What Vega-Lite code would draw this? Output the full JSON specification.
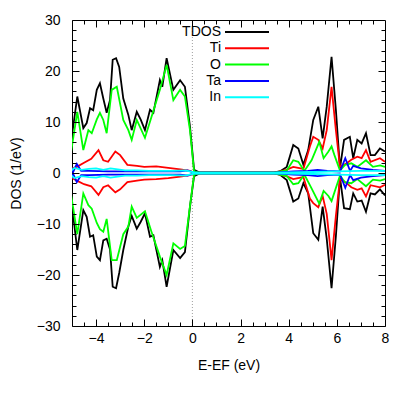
{
  "$schema": "https://vega.github.io/schema/vega-lite/v6.json",
  "width": 313,
  "height": 306,
  "autosize": {"type": "none"},
  "padding": {"left": 72, "top": 20, "right": 30, "bottom": 70},
  "background": "white",
  "config": {
    "view": {"stroke": "black", "strokeWidth": 1},
    "font": "Liberation Sans",
    "axis": {
      "domain": false,
      "grid": false,
      "labelFont": "Liberation Sans",
      "labelFontSize": 14,
      "labelColor": "black",
      "titleFont": "Liberation Sans",
      "titleFontSize": 14,
      "titleFontWeight": "normal",
      "titleColor": "black"
    }
  },
  "layer": [
    {
      "data": {"values": [{"E": 0, "lo": -30, "hi": 30}]},
      "mark": {"type": "rule", "color": "#888888", "strokeDash": [1, 2], "strokeWidth": 0.8},
      "encoding": {
        "x": {"field": "E", "type": "quantitative", "scale": {"domain": [-5, 8], "nice": false, "zero": false},
          "axis": {"orient": "top", "labels": false, "title": null, "values": [-4,-2,0,2,4,6], "ticks": true, "tickColor": "#000000", "tickWidth": 1, "tickSize": -7, "zindex": 1}},
        "y": {"field": "lo", "type": "quantitative", "scale": {"domain": [-30, 30], "nice": false},
          "axis": {"orient": "right", "labels": false, "title": null, "values": [-20,-10,0,10,20], "ticks": true, "tickColor": "#000000", "tickWidth": 1, "tickSize": -7, "zindex": 1}},
        "y2": {"field": "hi"}
      }
    },
    {
      "data": {"values": [{"E": 0, "lo": -30, "hi": 30}]},
      "mark": {"type": "rule", "opacity": 0},
      "encoding": {
        "x": {"field": "E", "type": "quantitative",
          "axis": {"orient": "top", "labels": false, "title": null,
            "values": [-4.5,-3.5,-3,-2.5,-1.5,-1,-0.5,0.5,1,1.5,2.5,3,3.5,4.5,5,5.5,6.5,7,7.5], "ticks": true, "tickColor": "#000000", "tickWidth": 1, "tickSize": -4, "zindex": 1}},
        "y": {"field": "lo", "type": "quantitative",
          "axis": {"orient": "right", "labels": false, "title": null,
            "values": [-28,-26,-24,-22,-18,-16,-14,-12,-8,-6,-4,-2,2,4,6,8,12,14,16,18,22,24,26,28], "ticks": true, "tickColor": "#000000", "tickWidth": 1, "tickSize": -4, "zindex": 1}},
        "y2": {"field": "hi"}
      }
    },
    {
      "data": {"values": [{"E": 0, "lo": -30, "hi": 30}]},
      "mark": {"type": "rule", "opacity": 0},
      "encoding": {
        "x": {"field": "E", "type": "quantitative",
          "axis": {"orient": "bottom", "labels": false, "title": null,
            "values": [-4.5,-3.5,-3,-2.5,-1.5,-1,-0.5,0.5,1,1.5,2.5,3,3.5,4.5,5,5.5,6.5,7,7.5], "ticks": true, "tickColor": "#000000", "tickWidth": 1, "tickSize": -4, "zindex": 1}},
        "y": {"field": "lo", "type": "quantitative",
          "axis": {"orient": "left", "labels": false, "title": null,
            "values": [-28,-26,-24,-22,-18,-16,-14,-12,-8,-6,-4,-2,2,4,6,8,12,14,16,18,22,24,26,28], "ticks": true, "tickColor": "#000000", "tickWidth": 1, "tickSize": -4, "zindex": 1}},
        "y2": {"field": "hi"}
      }
    },
    {
      "data": {"values": [
        {"k":"TDOS","E":-5.07,"u":5.0,"d":-3.7},{"k":"TDOS","E":-4.78,"u":15.0,"d":-15.1},{"k":"TDOS","E":-4.53,"u":8.8,"d":-7.3},{"k":"TDOS","E":-4.39,"u":9.8,"d":-8.6},{"k":"TDOS","E":-4.25,"u":12.7,"d":-12.5},{"k":"TDOS","E":-4.12,"u":12.3,"d":-12.2},{"k":"TDOS","E":-3.97,"u":16.3,"d":-16.4},{"k":"TDOS","E":-3.84,"u":17.6,"d":-17.1},{"k":"TDOS","E":-3.70,"u":14.6,"d":-13.2},{"k":"TDOS","E":-3.56,"u":11.8,"d":-12.9},{"k":"TDOS","E":-3.42,"u":14.3,"d":-15.0},{"k":"TDOS","E":-3.31,"u":22.2,"d":-22.3},{"k":"TDOS","E":-3.17,"u":22.5,"d":-22.6},{"k":"TDOS","E":-3.04,"u":20.8,"d":-19.6},{"k":"TDOS","E":-2.87,"u":14.6,"d":-15.1},{"k":"TDOS","E":-2.66,"u":11.4,"d":-10.5},{"k":"TDOS","E":-2.52,"u":8.4,"d":-8.4},{"k":"TDOS","E":-2.31,"u":12.0,"d":-10.9},{"k":"TDOS","E":-2.15,"u":10.5,"d":-9.6},{"k":"TDOS","E":-1.97,"u":8.4,"d":-7.9},{"k":"TDOS","E":-1.76,"u":12.4,"d":-12.5},{"k":"TDOS","E":-1.62,"u":11.8,"d":-12.2},{"k":"TDOS","E":-1.35,"u":18.2,"d":-18.4},{"k":"TDOS","E":-1.25,"u":16.9,"d":-17.1},{"k":"TDOS","E":-1.07,"u":22.5,"d":-22.3},{"k":"TDOS","E":-0.79,"u":16.3,"d":-15.1},{"k":"TDOS","E":-0.51,"u":18.2,"d":-16.7},{"k":"TDOS","E":-0.31,"u":16.9,"d":-15.5},{"k":"TDOS","E":-0.10,"u":9.1,"d":-6.6},{"k":"TDOS","E":0.07,"u":0.6,"d":-0.6},{"k":"TDOS","E":0.3,"u":0.1,"d":-0.1},{"k":"TDOS","E":3.4,"u":0.1,"d":-0.1},{"k":"TDOS","E":3.63,"u":0.3,"d":-0.3},{"k":"TDOS","E":3.92,"u":1.2,"d":-1.4},{"k":"TDOS","E":4.19,"u":5.5,"d":-5.6},{"k":"TDOS","E":4.40,"u":4.8,"d":-5.0},{"k":"TDOS","E":4.61,"u":1.6,"d":-2.0},{"k":"TDOS","E":4.81,"u":4.5,"d":-4.0},{"k":"TDOS","E":5.02,"u":10.4,"d":-11.8},{"k":"TDOS","E":5.23,"u":13.0,"d":-13.1},{"k":"TDOS","E":5.41,"u":6.8,"d":-6.6},{"k":"TDOS","E":5.58,"u":13.0,"d":-12.9},{"k":"TDOS","E":5.78,"u":22.8,"d":-22.6},{"k":"TDOS","E":5.96,"u":12.4,"d":-12.4},{"k":"TDOS","E":6.13,"u":0.9,"d":-0.9},{"k":"TDOS","E":6.30,"u":6.5,"d":-6.9},{"k":"TDOS","E":6.54,"u":7.1,"d":-7.1},{"k":"TDOS","E":6.68,"u":2.9,"d":-4.0},{"k":"TDOS","E":6.85,"u":6.5,"d":-5.6},{"k":"TDOS","E":7.03,"u":5.8,"d":-5.4},{"k":"TDOS","E":7.21,"u":7.8,"d":-7.6},{"k":"TDOS","E":7.40,"u":3.5,"d":-4.0},{"k":"TDOS","E":7.58,"u":3.5,"d":-4.2},{"k":"TDOS","E":7.79,"u":4.8,"d":-3.2},{"k":"TDOS","E":8.0,"u":4.2,"d":-4.4},
        {"k":"Ti","E":-5.07,"u":0.8,"d":-0.8},{"k":"Ti","E":-4.8,"u":1.2,"d":-1.5},{"k":"Ti","E":-4.5,"u":2.0,"d":-2.2},{"k":"Ti","E":-4.2,"u":2.8,"d":-2.6},{"k":"Ti","E":-3.9,"u":4.5,"d":-4.3},{"k":"Ti","E":-3.7,"u":2.5,"d":-2.8},{"k":"Ti","E":-3.5,"u":2.2,"d":-2.4},{"k":"Ti","E":-3.2,"u":4.2,"d":-3.8},{"k":"Ti","E":-3.0,"u":3.5,"d":-3.2},{"k":"Ti","E":-2.7,"u":1.6,"d":-1.8},{"k":"Ti","E":-2.3,"u":1.4,"d":-1.5},{"k":"Ti","E":-2.0,"u":1.2,"d":-1.3},{"k":"Ti","E":-1.5,"u":1.3,"d":-1.2},{"k":"Ti","E":-1.0,"u":1.0,"d":-1.0},{"k":"Ti","E":-0.5,"u":0.7,"d":-0.7},{"k":"Ti","E":-0.1,"u":0.4,"d":-0.4},{"k":"Ti","E":0.1,"u":0.05,"d":-0.05},{"k":"Ti","E":3.4,"u":0.05,"d":-0.05},{"k":"Ti","E":3.9,"u":0.6,"d":-0.6},{"k":"Ti","E":4.19,"u":1.2,"d":-1.2},{"k":"Ti","E":4.61,"u":0.8,"d":-0.8},{"k":"Ti","E":4.88,"u":5.2,"d":-5.0},{"k":"Ti","E":5.02,"u":7.1,"d":-5.9},{"k":"Ti","E":5.23,"u":6.5,"d":-6.7},{"k":"Ti","E":5.41,"u":4.8,"d":-4.5},{"k":"Ti","E":5.58,"u":8.4,"d":-8.0},{"k":"Ti","E":5.78,"u":16.9,"d":-17.1},{"k":"Ti","E":5.96,"u":8.4,"d":-8.4},{"k":"Ti","E":6.13,"u":1.2,"d":-1.2},{"k":"Ti","E":6.41,"u":1.9,"d":-2.0},{"k":"Ti","E":6.60,"u":2.6,"d":-2.8},{"k":"Ti","E":6.85,"u":3.2,"d":-3.3},{"k":"Ti","E":7.03,"u":2.9,"d":-3.0},{"k":"Ti","E":7.21,"u":4.5,"d":-4.6},{"k":"Ti","E":7.40,"u":2.2,"d":-2.4},{"k":"Ti","E":7.79,"u":2.9,"d":-2.8},{"k":"Ti","E":8.0,"u":2.2,"d":-2.3},
        {"k":"O","E":-5.07,"u":3.2,"d":-3.3},{"k":"O","E":-4.78,"u":12.0,"d":-12.0},{"k":"O","E":-4.53,"u":4.5,"d":-4.0},{"k":"O","E":-4.32,"u":8.4,"d":-6.3},{"k":"O","E":-4.18,"u":7.8,"d":-7.0},{"k":"O","E":-3.97,"u":10.5,"d":-9.8},{"k":"O","E":-3.84,"u":11.8,"d":-11.0},{"k":"O","E":-3.70,"u":10.4,"d":-11.5},{"k":"O","E":-3.56,"u":7.8,"d":-9.0},{"k":"O","E":-3.35,"u":16.3,"d":-17.1},{"k":"O","E":-3.14,"u":16.9,"d":-17.1},{"k":"O","E":-2.87,"u":10.4,"d":-12.0},{"k":"O","E":-2.66,"u":8.4,"d":-10.5},{"k":"O","E":-2.52,"u":6.5,"d":-6.6},{"k":"O","E":-2.31,"u":10.4,"d":-8.8},{"k":"O","E":-1.97,"u":6.9,"d":-7.5},{"k":"O","E":-1.70,"u":11.0,"d":-11.5},{"k":"O","E":-1.35,"u":16.3,"d":-16.4},{"k":"O","E":-1.07,"u":21.2,"d":-20.0},{"k":"O","E":-0.79,"u":14.3,"d":-13.8},{"k":"O","E":-0.51,"u":16.3,"d":-14.9},{"k":"O","E":-0.31,"u":15.0,"d":-14.3},{"k":"O","E":-0.10,"u":8.4,"d":-6.5},{"k":"O","E":0.07,"u":0.3,"d":-0.3},{"k":"O","E":0.3,"u":0.05,"d":-0.05},{"k":"O","E":3.4,"u":0.05,"d":-0.05},{"k":"O","E":3.92,"u":0.5,"d":-0.6},{"k":"O","E":4.19,"u":2.5,"d":-2.2},{"k":"O","E":4.40,"u":2.2,"d":-2.0},{"k":"O","E":4.65,"u":0.4,"d":-0.3},{"k":"O","E":4.95,"u":2.5,"d":-3.0},{"k":"O","E":5.27,"u":6.1,"d":-6.0},{"k":"O","E":5.45,"u":2.9,"d":-3.5},{"k":"O","E":5.65,"u":4.2,"d":-4.5},{"k":"O","E":5.78,"u":5.2,"d":-5.5},{"k":"O","E":5.90,"u":3.5,"d":-3.8},{"k":"O","E":6.13,"u":0.5,"d":-0.5},{"k":"O","E":6.34,"u":1.6,"d":-1.8},{"k":"O","E":6.60,"u":1.9,"d":-2.0},{"k":"O","E":6.85,"u":1.2,"d":-1.2},{"k":"O","E":7.21,"u":2.5,"d":-2.6},{"k":"O","E":7.50,"u":1.2,"d":-1.3},{"k":"O","E":7.80,"u":1.5,"d":-1.5},{"k":"O","E":8.0,"u":1.2,"d":-1.2},
        {"k":"Ta","E":-5.07,"u":1.6,"d":-1.6},{"k":"Ta","E":-4.95,"u":0.2,"d":-0.2},{"k":"Ta","E":-4.80,"u":1.8,"d":-1.8},{"k":"Ta","E":-4.62,"u":0.4,"d":-0.4},{"k":"Ta","E":-4.3,"u":0.4,"d":-0.4},{"k":"Ta","E":-3.5,"u":0.3,"d":-0.3},{"k":"Ta","E":-2.5,"u":0.3,"d":-0.3},{"k":"Ta","E":-1.5,"u":0.3,"d":-0.3},{"k":"Ta","E":-0.5,"u":0.3,"d":-0.3},{"k":"Ta","E":-0.2,"u":0.5,"d":-0.5},{"k":"Ta","E":0.1,"u":0.05,"d":-0.05},{"k":"Ta","E":3.4,"u":0.05,"d":-0.05},{"k":"Ta","E":4.2,"u":0.3,"d":-0.3},{"k":"Ta","E":4.8,"u":0.4,"d":-0.4},{"k":"Ta","E":5.2,"u":0.6,"d":-0.6},{"k":"Ta","E":5.6,"u":0.4,"d":-0.4},{"k":"Ta","E":6.13,"u":0.3,"d":-0.3},{"k":"Ta","E":6.35,"u":2.9,"d":-2.9},{"k":"Ta","E":6.55,"u":0.4,"d":-0.4},{"k":"Ta","E":6.68,"u":1.4,"d":-1.4},{"k":"Ta","E":7.0,"u":0.9,"d":-0.9},{"k":"Ta","E":7.5,"u":0.6,"d":-0.6},{"k":"Ta","E":8.0,"u":0.4,"d":-0.4},
        {"k":"In","E":-5.07,"u":0.3,"d":-0.3},{"k":"In","E":-4.9,"u":1.0,"d":-1.0},{"k":"In","E":-4.6,"u":0.6,"d":-0.6},{"k":"In","E":-4.3,"u":0.8,"d":-0.8},{"k":"In","E":-4.0,"u":0.9,"d":-0.9},{"k":"In","E":-3.7,"u":0.6,"d":-0.6},{"k":"In","E":-3.4,"u":0.9,"d":-0.9},{"k":"In","E":-3.1,"u":0.7,"d":-0.7},{"k":"In","E":-2.8,"u":0.5,"d":-0.5},{"k":"In","E":-2.3,"u":0.5,"d":-0.5},{"k":"In","E":-1.8,"u":0.4,"d":-0.4},{"k":"In","E":-1.3,"u":0.4,"d":-0.4},{"k":"In","E":-0.8,"u":0.4,"d":-0.4},{"k":"In","E":-0.3,"u":0.5,"d":-0.5},{"k":"In","E":0.1,"u":0.1,"d":-0.1},{"k":"In","E":3.4,"u":0.05,"d":-0.05},{"k":"In","E":5.0,"u":0.2,"d":-0.2},{"k":"In","E":6.0,"u":0.3,"d":-0.3},{"k":"In","E":7.0,"u":0.4,"d":-0.4},{"k":"In","E":8.0,"u":0.4,"d":-0.4}
      ]},
      "transform": [{"fold": ["u", "d"], "as": ["spin", "dos"]}],
      "mark": {"type": "line", "strokeWidth": 1.8, "clip": true, "interpolate": "linear"},
      "encoding": {
        "x": {"field": "E", "type": "quantitative", "scale": {"domain": [-5, 8], "nice": false, "zero": false},
          "axis": {"orient": "bottom", "title": "E-EF (eV)", "titlePadding": 13, "labelPadding": 12, "labelFlush": false,
            "values": [-4,-2,0,2,4,6,8], "ticks": true, "tickColor": "#000000", "tickWidth": 1, "tickSize": -7, "zindex": 1}},
        "y": {"field": "dos", "type": "quantitative", "scale": {"domain": [-30, 30], "nice": false},
          "axis": {"orient": "left", "title": "DOS (1/eV)", "titlePadding": 13, "labelPadding": 19,
            "values": [-30,-20,-10,0,10,20,30], "ticks": true, "tickColor": "#000000", "tickWidth": 1, "tickSize": -7, "zindex": 1}},
        "color": {"field": "k", "type": "nominal",
          "scale": {"domain": ["TDOS", "Ti", "O", "Ta", "In"], "range": ["#000000", "#ff0000", "#00ff00", "#0000ff", "#00ffff"]},
          "legend": {"orient": "none", "legendX": 168, "legendY": 5, "title": null, "symbolType": "M-4,0H4", "symbolSize": 121,
            "symbolStrokeWidth": 2, "rowPadding": 2.3, "labelOffset": -33, "labelAlign": "right",
            "labelFontSize": 14, "labelFont": "Liberation Sans", "labelColor": "black", "padding": 0}},
        "detail": {"field": "spin", "type": "nominal"}
      }
    }
  ],
  "resolve": {"axis": {"x": "independent", "y": "independent"}}
}
